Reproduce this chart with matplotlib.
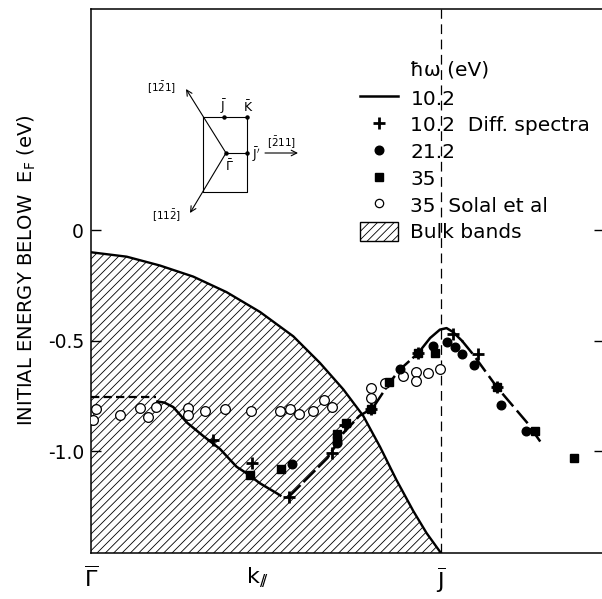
import matplotlib

matplotlib.use("Agg")
import matplotlib.pyplot as plt
from matplotlib.lines import Line2D
from matplotlib.patches import Patch

plt.rcParams["font.family"] = ["DejaVu Sans"]
plt.rcParams["mathtext.fontset"] = "dejavusans"
plt.rcParams["axes.unicode_minus"] = False
plt.rcParams["hatch.linewidth"] = 0.6
plt.rcParams["lines.scale_dashes"] = False

# ---- data: k along Gamma-J (Gamma = 0, J = 1), initial energy below E_F (eV)
bulk_k = [0.0, 0.102, 0.197, 0.292, 0.387, 0.483, 0.578, 0.654, 0.721, 0.778,
          0.826, 0.873, 0.921, 0.959, 1.0]
bulk_E = [-0.10, -0.12, -0.16, -0.21, -0.28, -0.37, -0.48, -0.60, -0.72, -0.84,
          -0.98, -1.13, -1.27, -1.37, -1.46]

fit_gamma_k = [0.0, 0.185]
fit_gamma_E = [-0.753, -0.753]
fit_low_k = [0.19, 0.21, 0.235, 0.274, 0.32, 0.369, 0.416, 0.445, 0.483, 0.531, 0.541]
fit_low_E = [-0.775, -0.78, -0.80, -0.87, -0.93, -0.99, -1.07, -1.10, -1.145, -1.19, -1.20]
fit_rise_k = [0.565, 0.584, 0.676, 0.72, 0.767, 0.805, 0.853, 0.883, 0.935]
fit_rise_E = [-1.206, -1.176, -1.03, -0.92, -0.84, -0.805, -0.69, -0.63, -0.556]
fit_top_k = [0.935, 0.969, 0.997, 1.016, 1.034, 1.06]
fit_top_E = [-0.556, -0.488, -0.45, -0.443, -0.46, -0.50]
fit_fall_k = [1.06, 1.091, 1.16, 1.246, 1.29]
fit_fall_E = [-0.50, -0.56, -0.71, -0.87, -0.97]

diff_k = [0.349, 0.459, 0.565, 0.69, 0.725, 0.80, 0.935, 1.034, 1.106, 1.16]
diff_E = [-0.95, -1.055, -1.206, -1.01, -0.88, -0.81, -0.556, -0.47, -0.56, -0.71]

e21_k = [0.573, 0.702, 0.883, 0.977, 1.016, 1.04, 1.06, 1.094, 1.171, 1.243]
e21_E = [-1.058, -0.964, -0.63, -0.526, -0.508, -0.53, -0.56, -0.61, -0.79, -0.91]

e35_k = [0.454, 0.544, 0.702, 0.702, 0.73, 0.80, 0.853, 0.935, 0.982, 1.16, 1.269, 1.38]
e35_E = [-1.108, -1.078, -0.92, -0.95, -0.874, -0.81, -0.685, -0.556, -0.556, -0.71, -0.91, -1.03]

solal_k = [0.005, 0.014, 0.083, 0.14, 0.162, 0.186, 0.278, 0.278, 0.326, 0.383, 0.456,
           0.54, 0.569, 0.595, 0.635, 0.667, 0.689, 0.80, 0.80, 0.84, 0.892,
           0.93, 0.93, 0.964, 0.997]
solal_E = [-0.86, -0.81, -0.836, -0.805, -0.846, -0.80, -0.805, -0.836, -0.82, -0.81, -0.82,
           -0.82, -0.81, -0.83, -0.816, -0.77, -0.80, -0.715, -0.76, -0.69, -0.66,
           -0.64, -0.68, -0.644, -0.63]

y_ticks = [0.0, -0.5, -1.0]
y_ticklabels = ["0", "-0.5", "-1.0"]
x_ticks = [0.0, 0.475, 1.0]
x_ticklabels = [r"$\overline{\Gamma}$", r"$\mathrm{k}_{/\!/}$", r"$\overline{\mathrm{J}}$"]

E_MIN, E_MAX = -1.46, 1.0
K_MAX = 1.466

W, H = 602, 599
fig = plt.figure(figsize=(W / 100, H / 100), dpi=100)
ax = fig.add_axes([91 / W, 1 - 553 / H, (604 - 91) / W, (553 - 9) / H])

# bulk band region
ax.fill_between(bulk_k, bulk_E, E_MIN, facecolor="white", edgecolor="black",
                hatch="////", linewidth=0, zorder=1)
ax.plot(bulk_k, bulk_E, color="black", lw=1.7, zorder=2)

ax.axvline(1.0, color="black", lw=0.9, dashes=(7, 4), zorder=2)

# surface state fit (10.2 eV)
ax.plot(fit_gamma_k, fit_gamma_E, color="black", lw=1.6, dashes=(6, 3), zorder=3)
ax.plot(fit_low_k, fit_low_E, color="black", lw=1.8, zorder=3)
ax.plot(fit_rise_k, fit_rise_E, color="black", lw=1.8, dashes=(12, 3), zorder=3)
ax.plot(fit_top_k, fit_top_E, color="black", lw=1.8, zorder=3)
ax.plot(fit_fall_k, fit_fall_E, color="black", lw=1.8, dashes=(12, 4), zorder=3)

ax.plot(solal_k, solal_E, "o", ms=7, mfc="white", mec="black", mew=0.9, ls="none", zorder=4)
ax.plot(e35_k, e35_E, "s", ms=5.5, color="black", ls="none", zorder=5)
ax.plot(e21_k, e21_E, "o", ms=6.2, color="black", ls="none", zorder=5)
ax.plot(diff_k, diff_E, "+", ms=9, mew=2.0, color="black", ls="none", zorder=6)

ax.set_xlim(0, K_MAX)
ax.set_ylim(E_MIN, E_MAX)
ax.set_yticks(y_ticks)
ax.set_yticklabels(y_ticklabels, fontsize=13.5)
ax.set_xticks(x_ticks)
ax.set_xticklabels(x_ticklabels, fontsize=16)
ax.tick_params(axis="y", direction="in", length=7.5, width=1.0, right=True, pad=5)
ax.tick_params(axis="x", length=0, pad=9)
for s in ax.spines.values():
    s.set_linewidth(1.1)

fig.text(27 / W, 1 - 270 / H, r"INITIAL ENERGY BELOW  E$_\mathrm{F}$ (eV)",
         rotation=90, ha="center", va="center", fontsize=14)

# legend
handles = [
    Line2D([], [], color="black", lw=1.8),
    Line2D([], [], marker="+", ms=9, mew=2.0, color="black", ls="none"),
    Line2D([], [], marker="o", ms=6.2, color="black", ls="none"),
    Line2D([], [], marker="s", ms=5.5, color="black", ls="none"),
    Line2D([], [], marker="o", ms=6, mfc="white", mec="black", mew=0.9, ls="none"),
    Patch(facecolor="white", edgecolor="black", hatch="////", lw=1.0),
]
labels = ["10.2", "10.2  Diff. spectra", "21.2", "35", "35  Solal et al", "Bulk bands"]
ax.legend(handles, labels, loc="upper left", bbox_to_anchor=(360 / W, 1 - 88 / H),
          bbox_transform=fig.transFigure, frameon=False, fontsize=14.5,
          borderpad=0, borderaxespad=0, handlelength=1.9, handleheight=1.1,
          handletextpad=0.6, labelspacing=0.31)
fig.text(410 / W, 1 - 70 / H, "ħω (eV)", ha="left", va="center", fontsize=14.5)

# inset: surface Brillouin zone sketch, Gamma at origin, 1 unit = 1 px
ins = fig.add_axes([151 / W, 1 - 228 / H, 160 / W, 150 / H])
ins.set_xlim(-75, 85)
ins.set_ylim(-75, 75)
ins.axis("off")
zone_x = [-23, 21, 21, -23, -23]
zone_y = [36, 36, -39, -39, 36]
ins.plot(zone_x, zone_y, color="black", lw=0.8)
ins.plot([0, 21], [0, 0], color="black", lw=0.8)
ins.plot([0, -2, 21, 21], [0, 36, 36, 0], "o", ms=2.2, color="black")
arrow = dict(arrowstyle="->", lw=0.8, color="black", shrinkA=0, shrinkB=0)
ins.annotate("", xy=(-40, 64), xytext=(0, 0), arrowprops=arrow)
ins.annotate("", xy=(-36, -60), xytext=(0, 0), arrowprops=arrow)
ins.annotate("", xy=(72, 0), xytext=(39, 0), arrowprops=arrow)
ins.text(-64, 66, r"$[1\bar{2}1]$", fontsize=7.5, ha="center", va="center")
ins.text(-59, -62, r"$[11\bar{2}]$", fontsize=7.5, ha="center", va="center")
ins.text(56, 11, r"$[\bar{2}11]$", fontsize=7.5, ha="center", va="center")
ins.text(-2, 46, r"$\bar{\mathrm{J}}$", fontsize=9, ha="center", va="center")
ins.text(22, 46, r"$\bar{\mathrm{K}}$", fontsize=9, ha="center", va="center")
ins.text(3, -13, r"$\bar{\Gamma}$", fontsize=9, ha="center", va="center")
ins.text(30, -2, r"$\bar{\mathrm{J}}'$", fontsize=9, ha="center", va="center")

fig.savefig("out.png", dpi=100)
